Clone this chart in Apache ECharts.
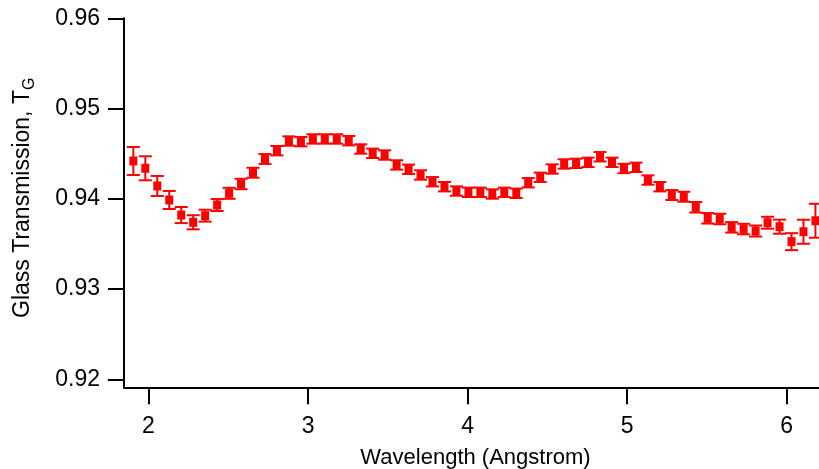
<!DOCTYPE html>
<html>
<head>
<meta charset="utf-8">
<script src="https://cdn.jsdelivr.net/npm/echarts@6/dist/echarts.min.js"></script>
<style>
  html, body { margin: 0; padding: 0; background: #ffffff; }
  #chart { width: 819px; height: 469px; }
</style>
</head>
<body>
<div id="chart"></div>
<script>
// Wavelength (Angstrom)
const wavelengths = [1.905, 1.98, 2.055, 2.13, 2.205, 2.28, 2.355, 2.43, 2.505, 2.58,
  2.655, 2.73, 2.805, 2.88, 2.955, 3.03, 3.105, 3.18, 3.255, 3.33,
  3.405, 3.48, 3.555, 3.63, 3.705, 3.78, 3.855, 3.93, 4.005, 4.08,
  4.155, 4.23, 4.305, 4.38, 4.455, 4.53, 4.605, 4.68, 4.755, 4.83,
  4.905, 4.98, 5.055, 5.13, 5.205, 5.28, 5.355, 5.43, 5.505, 5.58,
  5.655, 5.73, 5.805, 5.88, 5.955, 6.03, 6.105, 6.18];
// Glass transmission T_G
const transmission = [0.94419, 0.94338, 0.94142, 0.93987, 0.93820, 0.93740, 0.93813, 0.93931, 0.94061, 0.94164,
  0.94289, 0.94441, 0.94533, 0.94640, 0.94633, 0.94663, 0.94663, 0.94663, 0.94644, 0.94552,
  0.94504, 0.94485, 0.94375, 0.94327, 0.94264, 0.94189, 0.94134, 0.94086, 0.94072, 0.94072,
  0.94053, 0.94072, 0.94061, 0.94178, 0.94238, 0.94330, 0.94386, 0.94393, 0.94404, 0.94466,
  0.94404, 0.94336, 0.94349, 0.94208, 0.94134, 0.94042, 0.94023, 0.93906, 0.93784, 0.93776,
  0.93684, 0.93665, 0.93643, 0.93735, 0.93691, 0.93525, 0.93635, 0.93757];
// Error bar half-widths
const errors = [0.00155, 0.00133, 0.00111, 0.00100, 0.00089, 0.00078, 0.00066, 0.00066, 0.00061, 0.00058,
  0.00055, 0.00055, 0.00052, 0.00052, 0.00052, 0.00052, 0.00052, 0.00052, 0.00052, 0.00052,
  0.00052, 0.00052, 0.00052, 0.00052, 0.00052, 0.00052, 0.00052, 0.00052, 0.00052, 0.00052,
  0.00052, 0.00052, 0.00052, 0.00052, 0.00052, 0.00052, 0.00052, 0.00052, 0.00052, 0.00052,
  0.00052, 0.00052, 0.00052, 0.00052, 0.00052, 0.00055, 0.00055, 0.00058, 0.00058, 0.00058,
  0.00058, 0.00058, 0.00061, 0.00066, 0.00078, 0.00094, 0.00133, 0.00188];
const xTicks = [2, 3, 4, 5, 6];
const yTicks = [0.92, 0.93, 0.94, 0.95, 0.96];
const xTitle = 'Wavelength (Angstrom)';
const yTitleMain = 'Glass Transmission, T';
const yTitleSub = 'G';

const pointData = wavelengths.map((x, i) => [x, transmission[i]]);
const errData = wavelengths.map((x, i) => [x, transmission[i] - errors[i], transmission[i] + errors[i]]);

const FONT = '"Liberation Sans", Arial, Helvetica, sans-serif';
const RED = '#ff0000';

const chart = echarts.init(document.getElementById('chart'), null, { renderer: 'canvas' });
chart.setOption({
  backgroundColor: '#ffffff',
  animation: false,
  grid: { left: 124, top: 18.3, right: 0, bottom: 81.7, containLabel: false, outerBoundsMode: 'none' },
  xAxis: {
    type: 'value',
    min: 1.8464,
    max: 6.2024,
    axisLine: { show: true, onZero: false, lineStyle: { color: '#000', width: 2 } },
    axisTick: { show: true, length: 17, lineStyle: { color: '#000', width: 2 }, customValues: xTicks },
    axisLabel: { show: true, customValues: xTicks, color: '#000', fontSize: 23, fontFamily: FONT, margin: 39, verticalAlign: 'middle' },
    splitLine: { show: false },
    name: xTitle,
    nameLocation: 'middle',
    nameGap: 71,
    nameTextStyle: { color: '#000', fontSize: 22, fontFamily: FONT, verticalAlign: 'middle', padding: [0, 0, 0, 8] }
  },
  yAxis: {
    type: 'value',
    min: 0.919114,
    max: 0.96,
    axisLine: { show: true, onZero: false, lineStyle: { color: '#000', width: 2 } },
    axisTick: { show: true, length: 16, lineStyle: { color: '#000', width: 2 }, customValues: yTicks },
    axisLabel: { show: true, customValues: yTicks, color: '#000', fontSize: 23, fontFamily: FONT, margin: 24,
      formatter: v => v.toFixed(2) },
    splitLine: { show: false },
    name: '{a|' + yTitleMain + '}{s|' + yTitleSub + '}',
    nameLocation: 'middle',
    nameGap: 101,
    nameTextStyle: {
      color: '#000', fontFamily: FONT, verticalAlign: 'middle', padding: [0, 0, 0, 10],
      rich: {
        a: { fontSize: 23, fontFamily: FONT, color: '#000', lineHeight: 30 },
        s: { fontSize: 16, fontFamily: FONT, color: '#000', lineHeight: 17, verticalAlign: 'bottom' }
      }
    }
  },
  series: [
    {
      type: 'custom',
      data: errData,
      clip: false,
      z: 2,
      encode: { x: 0, y: [1, 2] },
      renderItem: function (params, api) {
        const x = api.value(0);
        const lo = api.coord([x, api.value(1)]);
        const hi = api.coord([x, api.value(2)]);
        const hw = 6.5;
        const st = { stroke: RED, lineWidth: 2 };
        return {
          type: 'group',
          children: [
            { type: 'line', shape: { x1: lo[0], y1: lo[1], x2: hi[0], y2: hi[1] }, style: st },
            { type: 'line', shape: { x1: lo[0] - hw, y1: lo[1], x2: lo[0] + hw, y2: lo[1] }, style: st },
            { type: 'line', shape: { x1: hi[0] - hw, y1: hi[1], x2: hi[0] + hw, y2: hi[1] }, style: st }
          ]
        };
      }
    },
    {
      type: 'scatter',
      data: pointData,
      symbol: 'rect',
      symbolSize: [8, 9],
      clip: false,
      z: 3,
      itemStyle: { color: RED, opacity: 1 }
    }
  ]
});
</script>
</body>
</html>
